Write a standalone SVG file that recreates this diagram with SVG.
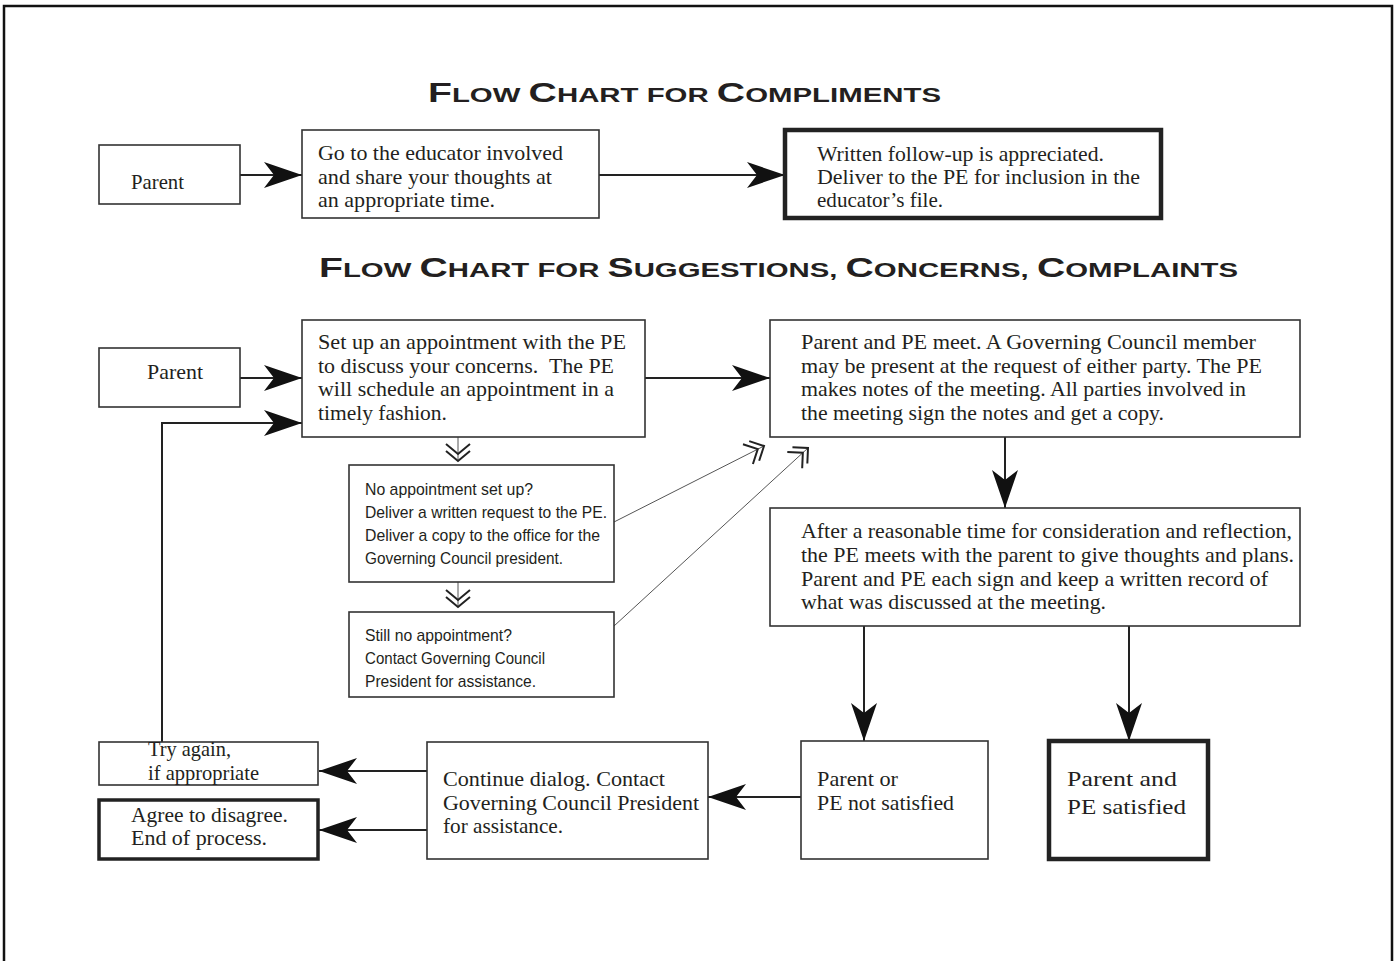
<svg xmlns="http://www.w3.org/2000/svg" width="1397" height="961" viewBox="0 0 1397 961">
<style>
.bx{fill:#fff;stroke:#333;stroke-width:1.6}
.bk{fill:#fff;stroke:#222;stroke-width:4.5}
.bm{fill:#fff;stroke:#222;stroke-width:3.5}
.t{font-family:"Liberation Serif","Times New Roman",serif;font-size:21px;fill:#231f20}
.s{font-family:"Liberation Sans",Arial,sans-serif;font-size:17px;fill:#231f20}
.h{font-family:"Liberation Sans",Arial,sans-serif;font-weight:bold;fill:#231f20}
.c{fill:none;stroke:#222;stroke-width:2}
.thin{fill:none;stroke:#555;stroke-width:1}
</style>
<defs>
<marker id="ah" markerUnits="userSpaceOnUse" markerWidth="40" markerHeight="28" refX="38" refY="13" orient="auto"><path d="M0,0 L38,13 L0,26 L10,13 Z" fill="#111"/></marker>
<marker id="dv" markerUnits="userSpaceOnUse" markerWidth="30" markerHeight="30" refX="20" refY="14" orient="auto"><path d="M10,2 L20,14 L10,26 M3,2 L13,14 L3,26" fill="none" stroke="#222" stroke-width="2"/></marker>
<marker id="dd" markerUnits="userSpaceOnUse" markerWidth="30" markerHeight="30" refX="20" refY="14" orient="auto"><path d="M9,3 L20,14 L9,25 M2,3 L13,14 L2,25" fill="none" stroke="#222" stroke-width="2"/></marker>
</defs>
<rect width="1397" height="961" fill="#fff"/>
<path d="M4,961 V6 H1392 V961" fill="none" stroke="#111" stroke-width="2.5"/>

<g id="title1"><text class="h" x="428" y="102" textLength="513" lengthAdjust="spacingAndGlyphs"><tspan font-size="28">F</tspan><tspan font-size="21">LOW </tspan><tspan font-size="28">C</tspan><tspan font-size="21">HART FOR </tspan><tspan font-size="28">C</tspan><tspan font-size="21">OMPLIMENTS</tspan></text></g>
<g id="title2"><text class="h" x="319" y="277" textLength="919" lengthAdjust="spacingAndGlyphs"><tspan font-size="28">F</tspan><tspan font-size="21">LOW </tspan><tspan font-size="28">C</tspan><tspan font-size="21">HART FOR </tspan><tspan font-size="28">S</tspan><tspan font-size="21">UGGESTIONS, </tspan><tspan font-size="28">C</tspan><tspan font-size="21">ONCERNS, </tspan><tspan font-size="28">C</tspan><tspan font-size="21">OMPLAINTS</tspan></text></g>

<g id="connectors">
<line class="c" x1="240" y1="175" x2="302" y2="175" marker-end="url(#ah)"/>
<line class="c" x1="599" y1="175" x2="785" y2="175" marker-end="url(#ah)"/>
<line class="c" x1="240" y1="378" x2="302" y2="378" marker-end="url(#ah)"/>
<line class="c" x1="645" y1="378" x2="770" y2="378" marker-end="url(#ah)"/>
<polyline class="c" points="162,742 162,423 302,423" marker-end="url(#ah)"/>
<line class="c" x1="1005" y1="437" x2="1005" y2="508" marker-end="url(#ah)"/>
<line class="c" x1="864" y1="626" x2="864" y2="741" marker-end="url(#ah)"/>
<line class="c" x1="1129" y1="626" x2="1129" y2="741" marker-end="url(#ah)"/>
<line class="c" x1="801" y1="797" x2="708" y2="797" marker-end="url(#ah)"/>
<line class="c" x1="427" y1="771" x2="319" y2="771" marker-end="url(#ah)"/>
<line class="c" x1="427" y1="830" x2="319" y2="830" marker-end="url(#ah)"/>
<line class="thin" x1="458" y1="437" x2="458" y2="461" marker-end="url(#dv)"/>
<line class="thin" x1="458" y1="582" x2="458" y2="607" marker-end="url(#dv)"/>
<line class="thin" x1="614" y1="522" x2="764" y2="446" marker-end="url(#dd)"/>
<line class="thin" x1="614" y1="626" x2="808" y2="448" marker-end="url(#dd)"/>
</g>

<g id="parent1"><rect class="bx" x="99" y="145" width="141" height="59"/><text class="t" x="131" y="189" textLength="53" lengthAdjust="spacingAndGlyphs">Parent</text></g>
<g id="goto"><rect class="bx" x="302" y="130" width="297" height="88"/>
<text class="t" x="318" y="160" textLength="245" lengthAdjust="spacingAndGlyphs">Go to the educator involved</text>
<text class="t" x="318" y="184" textLength="234" lengthAdjust="spacingAndGlyphs">and share your thoughts at</text>
<text class="t" x="318" y="207" textLength="177" lengthAdjust="spacingAndGlyphs">an appropriate time.</text></g>
<g id="written"><rect class="bk" x="785" y="130" width="376" height="88"/>
<text class="t" x="817" y="161" textLength="287" lengthAdjust="spacingAndGlyphs">Written follow-up is appreciated.</text>
<text class="t" x="817" y="184" textLength="323" lengthAdjust="spacingAndGlyphs">Deliver to the PE for inclusion in the</text>
<text class="t" x="817" y="207" textLength="126" lengthAdjust="spacingAndGlyphs">educator’s file.</text></g>

<g id="parent2"><rect class="bx" x="99" y="348" width="141" height="59"/><text class="t" x="147" y="379" textLength="56" lengthAdjust="spacingAndGlyphs">Parent</text></g>
<g id="setup"><rect class="bx" x="302" y="320" width="343" height="117"/>
<text class="t" x="318" y="349" textLength="308" lengthAdjust="spacingAndGlyphs">Set up an appointment with the PE</text>
<text class="t" x="318" y="373" textLength="296" lengthAdjust="spacingAndGlyphs" xml:space="preserve">to discuss your concerns.  The PE</text>
<text class="t" x="318" y="396" textLength="296" lengthAdjust="spacingAndGlyphs">will schedule an appointment in a</text>
<text class="t" x="318" y="420" textLength="129" lengthAdjust="spacingAndGlyphs">timely fashion.</text></g>
<g id="meet"><rect class="bx" x="770" y="320" width="530" height="117"/>
<text class="t" x="801" y="349" textLength="455" lengthAdjust="spacingAndGlyphs">Parent and PE meet. A Governing Council member</text>
<text class="t" x="801" y="373" textLength="461" lengthAdjust="spacingAndGlyphs">may be present at the request of either party. The PE</text>
<text class="t" x="801" y="396" textLength="445" lengthAdjust="spacingAndGlyphs">makes notes of the meeting. All parties involved in</text>
<text class="t" x="801" y="420" textLength="363" lengthAdjust="spacingAndGlyphs">the meeting sign the notes and get a copy.</text></g>
<g id="after"><rect class="bx" x="770" y="508" width="530" height="118"/>
<text class="t" x="801" y="538" textLength="491" lengthAdjust="spacingAndGlyphs">After a reasonable time for consideration and reflection,</text>
<text class="t" x="801" y="562" textLength="493" lengthAdjust="spacingAndGlyphs">the PE meets with the parent to give thoughts and plans.</text>
<text class="t" x="801" y="586" textLength="467" lengthAdjust="spacingAndGlyphs">Parent and PE each sign and keep a written record of</text>
<text class="t" x="801" y="609" textLength="305" lengthAdjust="spacingAndGlyphs">what was discussed at the meeting.</text></g>
<g id="noappt"><rect class="bx" x="349" y="465" width="265" height="117"/>
<text class="s" x="365" y="495" textLength="168" lengthAdjust="spacingAndGlyphs">No appointment set up?</text>
<text class="s" x="365" y="518" textLength="242" lengthAdjust="spacingAndGlyphs">Deliver a written request to the PE.</text>
<text class="s" x="365" y="541" textLength="235" lengthAdjust="spacingAndGlyphs">Deliver a copy to the office for the</text>
<text class="s" x="365" y="564" textLength="198" lengthAdjust="spacingAndGlyphs">Governing Council president.</text></g>
<g id="stillno"><rect class="bx" x="349" y="612" width="265" height="85"/>
<text class="s" x="365" y="641" textLength="147" lengthAdjust="spacingAndGlyphs">Still no appointment?</text>
<text class="s" x="365" y="664" textLength="180" lengthAdjust="spacingAndGlyphs">Contact Governing Council</text>
<text class="s" x="365" y="687" textLength="171" lengthAdjust="spacingAndGlyphs">President for assistance.</text></g>
<g id="notsat"><rect class="bx" x="801" y="741" width="187" height="118"/>
<text class="t" x="817" y="786" textLength="81" lengthAdjust="spacingAndGlyphs">Parent or</text>
<text class="t" x="817" y="810" textLength="137" lengthAdjust="spacingAndGlyphs">PE not satisfied</text></g>
<g id="sat"><rect class="bk" x="1049" y="741" width="159" height="118"/>
<text class="t" x="1067" y="786" font-size="24" textLength="110" lengthAdjust="spacingAndGlyphs">Parent and</text>
<text class="t" x="1067" y="814" font-size="24" textLength="119" lengthAdjust="spacingAndGlyphs">PE satisfied</text></g>
<g id="continue"><rect class="bx" x="427" y="742" width="281" height="117"/>
<text class="t" x="443" y="786" textLength="222" lengthAdjust="spacingAndGlyphs">Continue dialog. Contact</text>
<text class="t" x="443" y="810" textLength="256" lengthAdjust="spacingAndGlyphs">Governing Council President</text>
<text class="t" x="443" y="833" textLength="120" lengthAdjust="spacingAndGlyphs">for assistance.</text></g>
<g id="tryagain"><rect class="bx" x="99" y="742" width="219" height="43"/>
<text class="t" x="148" y="756" textLength="83" lengthAdjust="spacingAndGlyphs">Try again,</text>
<text class="t" x="148" y="780" textLength="111" lengthAdjust="spacingAndGlyphs">if appropriate</text></g>
<g id="agree"><rect class="bm" x="99" y="800" width="219" height="59"/>
<text class="t" x="131" y="822" textLength="157" lengthAdjust="spacingAndGlyphs">Agree to disagree.</text>
<text class="t" x="131" y="845" textLength="136" lengthAdjust="spacingAndGlyphs">End of process.</text></g>
</svg>
